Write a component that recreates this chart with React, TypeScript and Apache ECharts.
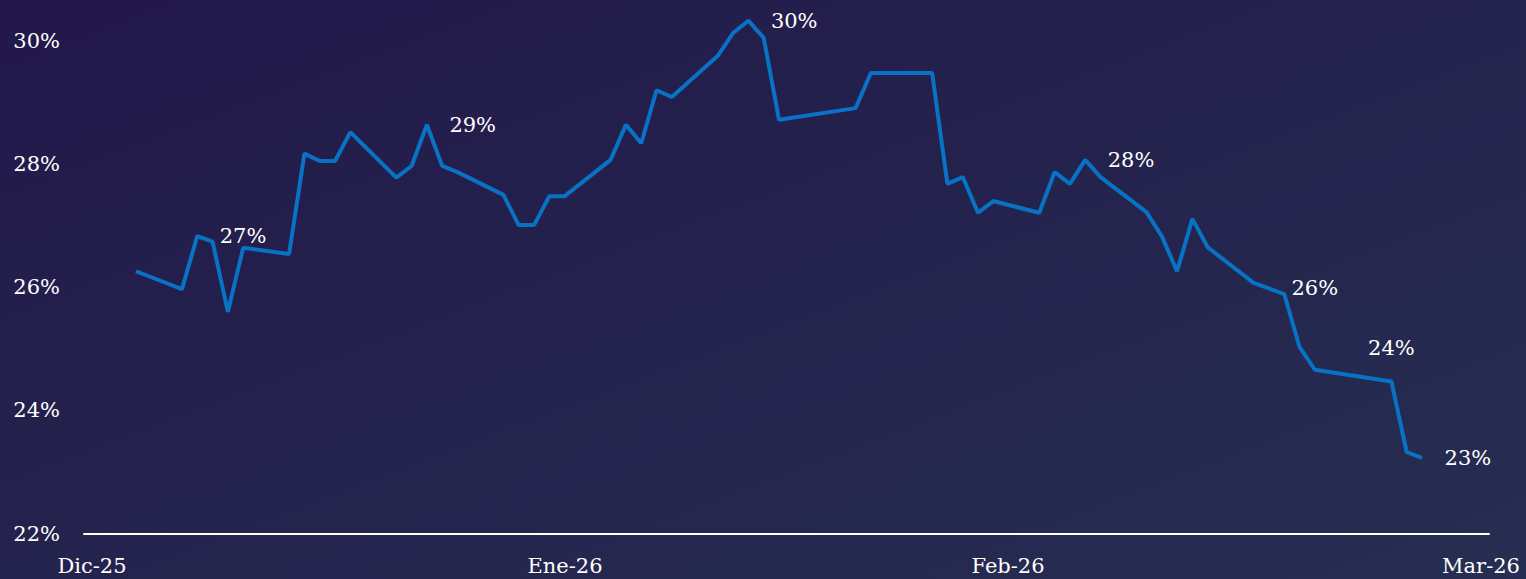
import React, { useEffect, useRef } from "react";
import * as echarts from "echarts";

const dates: string[] = [
  "2025-12-05", "2025-12-08", "2025-12-09", "2025-12-10", "2025-12-11", "2025-12-12",
  "2025-12-15", "2025-12-16", "2025-12-17", "2025-12-18", "2025-12-19",
  "2025-12-22", "2025-12-23", "2025-12-24", "2025-12-25", "2025-12-26",
  "2025-12-29", "2025-12-30", "2025-12-31", "2026-01-01", "2026-01-02",
  "2026-01-05", "2026-01-06", "2026-01-07", "2026-01-08", "2026-01-09",
  "2026-01-12", "2026-01-13", "2026-01-14", "2026-01-15", "2026-01-16",
  "2026-01-21", "2026-01-22",
  "2026-01-26", "2026-01-27", "2026-01-28", "2026-01-29", "2026-01-30",
  "2026-02-02", "2026-02-03", "2026-02-04", "2026-02-05", "2026-02-06",
  "2026-02-09", "2026-02-10", "2026-02-11", "2026-02-12", "2026-02-13",
  "2026-02-16", "2026-02-17", "2026-02-18", "2026-02-19", "2026-02-20",
  "2026-02-25", "2026-02-26", "2026-02-27",
];

const values: number[] = [
  26.26, 25.97, 26.83, 26.74, 25.6, 26.64,
  26.54, 28.17, 28.05, 28.05, 28.52,
  27.78, 27.97, 28.64, 27.97, 27.87,
  27.5, 27.01, 27.01, 27.48, 27.48,
  28.07, 28.64, 28.34, 29.2, 29.09,
  29.76, 30.13, 30.33, 30.05, 28.72,
  28.91, 29.48,
  29.48, 27.68, 27.79, 27.21, 27.4,
  27.21, 27.87, 27.68, 28.07, 27.79,
  27.22, 26.83, 26.26, 27.11, 26.65,
  26.07, 25.98, 25.89, 25.03, 24.66,
  24.47, 23.32, 23.23,
];

// labelled points: date -> label position
const labelDates: string[] = ["2025-12-09", "2025-12-24", "2026-01-14", "2026-02-05", "2026-02-17", "2026-02-25", "2026-02-27"];
const labelPositions: string[] = ["right", "right", "right", "right", "right", "top", "right"];

const tickDates: string[] = ["2025-12-02T03:00", "2026-01-02T00:30", "2026-01-30T23:00", "2026-03-02T20:30"];
const tickLabels: string[] = ["Dic-25", "Ene-26", "Feb-26", "Mar-26"];

const xStart = "2025-12-01T14:28";
const xEnd = "2026-03-03T09:00";

const yMin = 22;
const yMax = 30;
const yStep = 2;

const FONT = "'DejaVu Serif', 'Liberation Serif', serif";

const toMs = (d: string) => new Date(d).getTime();

export default function App() {
  const ref = useRef<HTMLDivElement>(null);

  useEffect(() => {
    if (!ref.current) return;
    const chart = echarts.init(ref.current, undefined, { renderer: "svg" });
    const tickTimes = tickDates.map(toMs);

    const data = dates.map((d, i) => {
      const li = labelDates.indexOf(d);
      const item: any = { value: [toMs(d), values[i]] };
      if (li >= 0) {
        item.label = {
          show: true,
          position: labelPositions[li],
          distance: 22,
          formatter: Math.round(values[i]) + "%",
          color: "#ffffff",
          fontSize: 21,
          fontFamily: FONT,
        };
      }
      return item;
    });

    chart.setOption({
      animation: false,
      backgroundColor: new echarts.graphic.LinearGradient(0, 0, 1, 1, [
        { offset: 0, color: "#22184a" },
        { offset: 1, color: "#262e51" },
      ]),
      grid: {
        left: 84,
        right: 37,
        top: 41,
        bottom: 45.5,
        containLabel: false,
        outerBoundsMode: "none",
      },
      xAxis: {
        type: "value",
        min: toMs(xStart),
        max: toMs(xEnd),
        axisLine: { show: true, lineStyle: { color: "#ffffff", width: 2 } },
        axisTick: { show: false },
        splitLine: { show: false },
        axisLabel: {
          customValues: tickTimes,
          color: "#ffffff",
          fontSize: 21,
          fontFamily: FONT,
          margin: 22,
          hideOverlap: false,
          formatter: (v: number) => {
            let best = 0;
            let bd = Infinity;
            tickTimes.forEach((t, i) => {
              const dd = Math.abs(t - v);
              if (dd < bd) {
                bd = dd;
                best = i;
              }
            });
            return tickLabels[best];
          },
        },
      },
      yAxis: {
        type: "value",
        min: yMin,
        max: yMax,
        interval: yStep,
        axisLine: { show: false },
        axisTick: { show: false },
        splitLine: { show: false },
        axisLabel: {
          formatter: "{value}%",
          color: "#ffffff",
          fontSize: 21,
          fontFamily: FONT,
          margin: 24,
        },
      },
      series: [
        {
          type: "line",
          data,
          clip: false,
          symbol: "circle",
          symbolSize: 1,
          showSymbol: true,
          itemStyle: { color: "rgba(0,0,0,0)" },
          lineStyle: { color: "#0872c4", width: 4 },
          label: { show: false },
          emphasis: { disabled: true },
        },
      ],
    });

    return () => chart.dispose();
  }, []);

  return (
    <div
      ref={ref}
      style={{ position: "fixed", left: 0, top: 0, width: 1526, height: 579 }}
    />
  );
}
